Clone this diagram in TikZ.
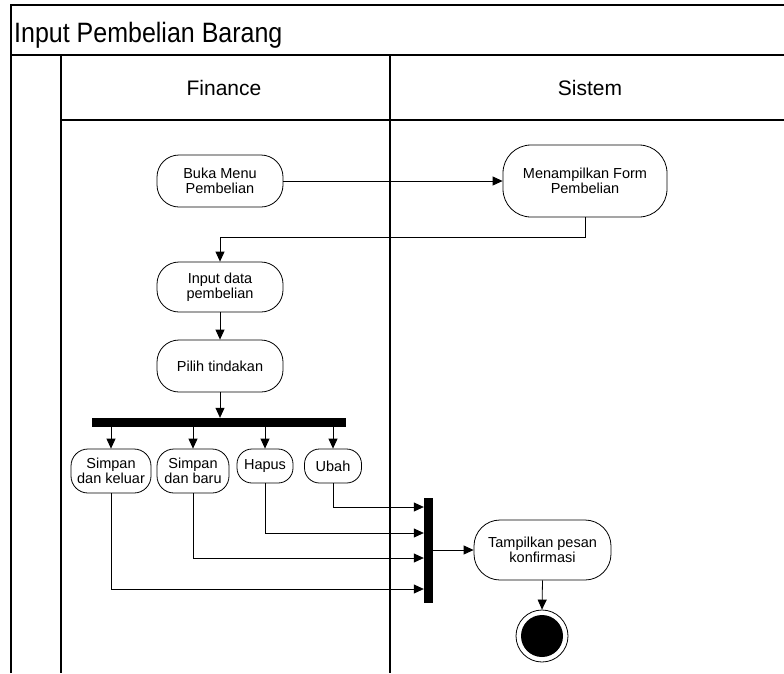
\documentclass[tikz,border=0pt]{standalone}
\usepackage{fontspec}
\setmainfont{Liberation Sans}
\usetikzlibrary{arrows.meta,calc}
\begin{document}
\begin{tikzpicture}[x=1pt,y=-1pt,
  act/.style={draw, line width=0.8pt, align=center, inner sep=0pt,
    font=\fontsize{14.5}{15.5}\selectfont},
  flow/.style={line width=0.8pt, -{Triangle[length=10pt,width=9pt]}},
  syncbar/.style={fill=black, draw=none, inner sep=0pt},
  frameline/.style={line width=1.2pt},
  lanehead/.style={anchor=base, inner sep=0pt, font=\fontsize{21}{24}\selectfont}]
\useasboundingbox (0,0) rectangle (784,673);

% swimlane frame
\draw[frameline] (11,673) -- (11,5) -- (800,5);
\draw[line width=2.6pt] (11,55) -- (800,55);
\draw[frameline] (61,55) -- (61,673);
\draw[frameline] (390,55) -- (390,673);
\draw[frameline] (61,120) -- (800,120);

\node[anchor=base west, inner sep=0pt, font=\fontsize{25}{28}\selectfont] (title) at (14,42)
  {\scalebox{1}[1.12]{Input Pembelian Barang}};
\node[lanehead] (finance) at (224,95) {Finance};
\node[lanehead] (sistem) at (590,95) {Sistem};

% activities
\node[act, minimum width=126pt, minimum height=52pt, rounded corners=22pt] (buka) at (220,181) {Buka Menu\\Pembelian};
\node[act, minimum width=164pt, minimum height=72pt, rounded corners=28pt] (form) at (585,181) {Menampilkan Form\\Pembelian};
\node[act, minimum width=126pt, minimum height=50pt, rounded corners=22pt] (input) at (220,287) {Input data\\pembelian};
\node[act, minimum width=126pt, minimum height=52pt, rounded corners=22pt] (pilih) at (220,366) {Pilih tindakan};

\node[syncbar, minimum width=254pt, minimum height=9pt] (fork) at (219,422.5) {};

\node[act, minimum width=80pt, minimum height=44pt, rounded corners=17pt] (sk) at (111,471) {Simpan\\dan keluar};
\node[act, minimum width=72pt, minimum height=44pt, rounded corners=17pt] (sb) at (193,471) {Simpan\\dan baru};
\node[act, minimum width=56pt, minimum height=34pt, rounded corners=15pt] (hapus) at (265,466) {Hapus};
\node[act, minimum width=57pt, minimum height=34pt, rounded corners=15pt] (ubah) at (333,466) {Ubah};

\node[syncbar, minimum width=9pt, minimum height=105pt] (join) at (428.5,550.5) {};

\node[act, minimum width=137pt, minimum height=60pt, rounded corners=26pt] (tampil) at (542.5,550) {Tampilkan pesan\\konfirmasi};

\node[circle, draw, line width=0.8pt, minimum size=52pt, inner sep=0pt] (end) at (542,636) {};
\node[circle, fill=black, minimum size=42pt, inner sep=0pt] (endcore) at (end.center) {};

% control flow
\draw[flow] (buka.east) -- (form.west);
\draw[flow] (form.south) -- ++(0,20) -| (input.north);
\draw[flow] (input.south) -- (pilih.north);
\draw[flow] (pilih.south) -- (pilih.south |- fork.north);
\foreach \n in {sk,sb,hapus,ubah}
  \draw[flow] (\n.north |- fork.south) -- (\n.north);
\draw[flow] (ubah.south) |- (join.west |- 0,507);
\draw[flow] (hapus.south) |- (join.west |- 0,533);
\draw[flow] (sb.south) |- (join.west |- 0,558);
\draw[flow] (sk.south) |- (join.west |- 0,589);
\draw[flow] (join.east |- tampil.west) -- (tampil.west);
\draw[flow] (tampil.south) -- (end.north);
\end{tikzpicture}
\end{document}
